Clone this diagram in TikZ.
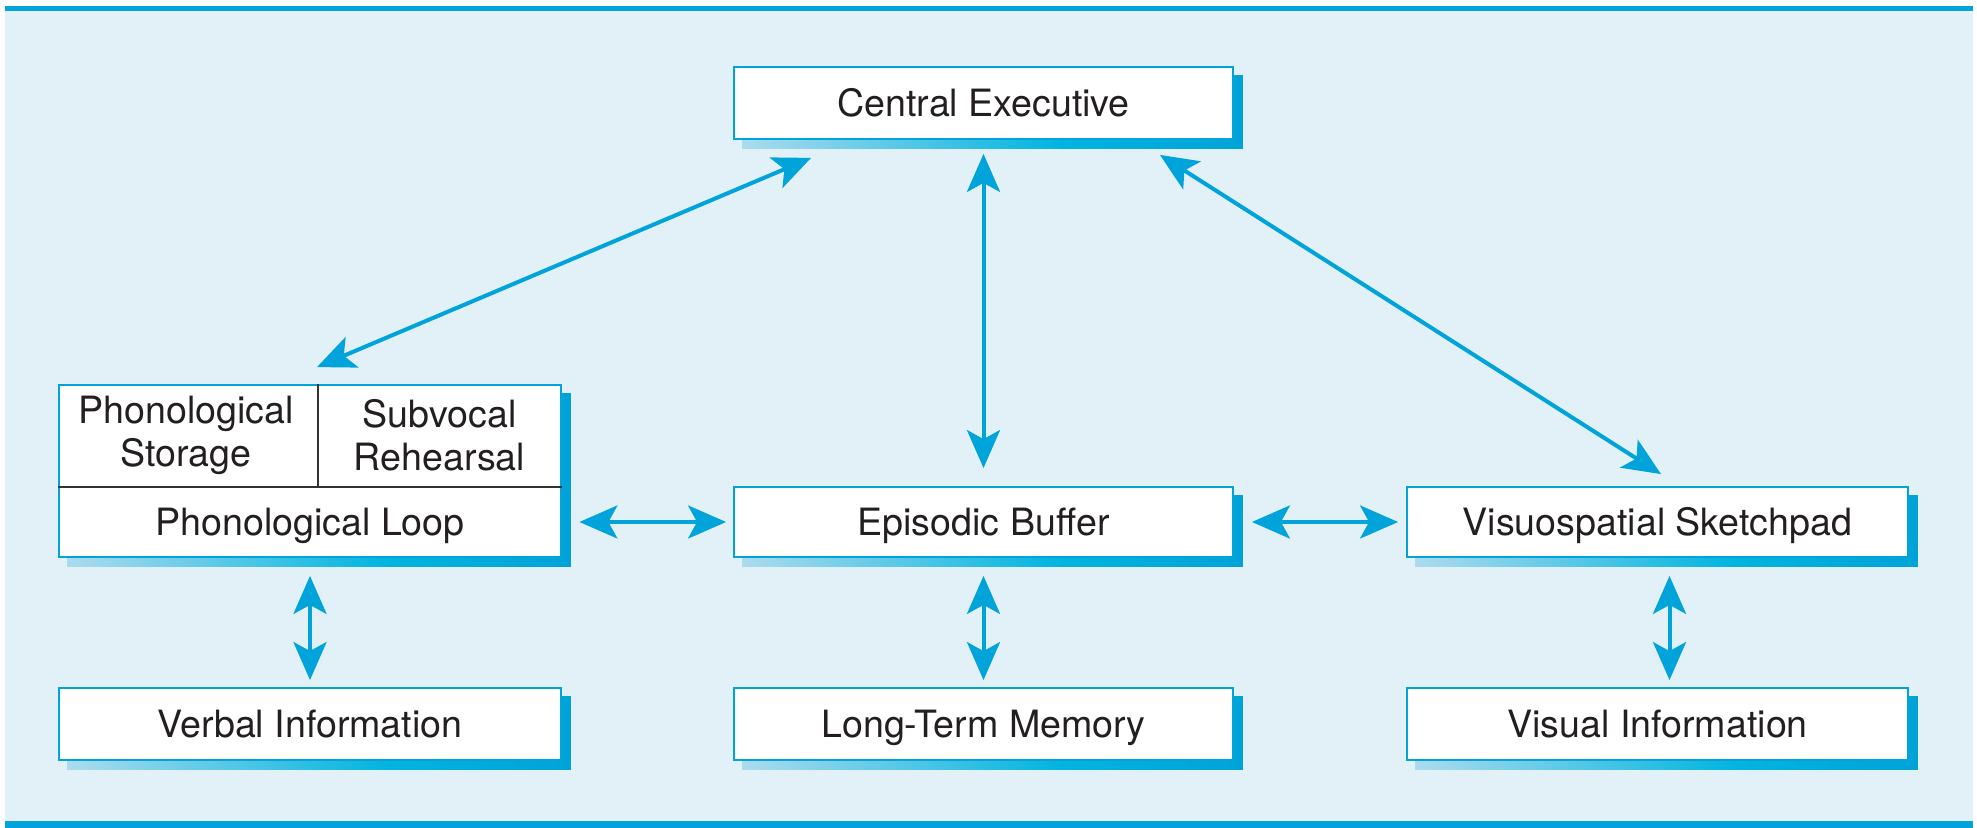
\documentclass[tikz,border=0pt]{standalone}
\usepackage{fontspec}
\setmainfont{TeX Gyre Heros}
\usetikzlibrary{arrows.meta}
\definecolor{bgblue}{RGB}{226,241,248}
\definecolor{cyanline}{RGB}{0,163,218}
\definecolor{shl}{RGB}{172,219,237}
\definecolor{shm}{RGB}{0,180,224}
\definecolor{shr}{RGB}{0,163,216}
\definecolor{textc}{RGB}{35,31,32}
\definecolor{divc}{RGB}{50,50,50}
\pgfdeclarelayer{bg}
\pgfsetlayers{bg,main}
\pgfdeclarehorizontalshading{shadowgrad}{100bp}{color(0bp)=(shl); color(25bp)=(shl); color(57bp)=(shm); color(75bp)=(shr); color(100bp)=(shr)}
\begin{document}
\begin{tikzpicture}[x=0.5pt,y=-0.5pt,
  box/.style={draw=cyanline, line width=0.9pt, fill=white, rectangle, inner sep=0pt,
    text=textc, font=\fontsize{18.8}{21.5}\selectfont, align=center,
    text height=15.6pt, text depth=2pt},
  lbl/.style={inner sep=0pt, text=textc, font=\fontsize{18.8}{21.5}\selectfont, align=center},
  divider/.style={draw=divc, line width=0.75pt},
  link/.style={draw=cyanline, line width=2pt,
    {Stealth[length=19pt,width=16.5pt,inset=4.5pt]}-{Stealth[length=19pt,width=16.5pt,inset=4.5pt]}},
]
\useasboundingbox (0,0) rectangle (1977,828);

% boxes
\node[box, minimum width=249.5pt, minimum height=36pt] (ce) at (983.5,103) {Central Executive};
\node[box, minimum width=251pt, minimum height=86pt] (pl) at (310,471) {};
\node[box, minimum width=249.5pt, minimum height=35pt] (eb) at (983.5,522) {Episodic Buffer};
\node[box, minimum width=250.5pt, minimum height=35pt] (vs) at (1657.5,522) {Visuospatial Sketchpad};
\node[box, minimum width=251pt, minimum height=36pt] (vb) at (310,724) {Verbal Information};
\node[box, minimum width=249.5pt, minimum height=36pt] (ltm) at (983.5,724) {Long-Term Memory};
\node[box, minimum width=250.5pt, minimum height=36pt] (vi) at (1657.5,724) {Visual Information};

% phonological loop inner cells
\coordinate (plmid) at (310,487);
\coordinate (pldiv) at (318,487);
\draw[divider] (plmid -| pl.west) -- (plmid -| pl.east);
\draw[divider] (pldiv |- pl.north) -- (pldiv);
\node[lbl] (ps) at (186,435) {Phonological\\Storage};
\node[lbl] (sr) at (439.5,435) {Subvocal\\Rehearsal};
\node[lbl, minimum width=251pt, minimum height=35pt, text height=15.6pt, text depth=2pt] (pll) at (310,522) {Phonological Loop};

% background and shadows
\begin{pgfonlayer}{bg}
\fill[bgblue] (5,6) rectangle (1973,828);
\fill[cyanline] (5,6) rectangle (1973,11);
\fill[cyanline] (5,821) rectangle (1973,828);
\foreach \n in {ce,pl,eb,vs,vb,ltm,vi}
  \shade[shading=shadowgrad] ([shift={(4.5pt,-4.5pt)}]\n.north west) rectangle ([shift={(4.5pt,-4.5pt)}]\n.south east);
\end{pgfonlayer}

% connectors
\draw[link] ([xshift=39pt,yshift=-9pt]ce.south west) -- ([xshift=3.5pt,yshift=8.5pt]pl.north);
\draw[link] ([yshift=-7pt]ce.south) -- ([yshift=9pt]eb.north);
\draw[link] ([xshift=-37pt,yshift=-7.5pt]ce.south east) -- ([xshift=1.75pt,yshift=6pt]vs.north);
\draw[link] ([xshift=9pt]pll.east) -- ([xshift=-3.5pt]eb.west);
\draw[link] ([xshift=9pt]eb.east) -- ([xshift=-4pt]vs.west);
\draw[link] ([yshift=-9pt]pl.south) -- ([yshift=3.5pt]vb.north);
\draw[link] ([yshift=-9pt]eb.south) -- ([yshift=3.5pt]ltm.north);
\draw[link] ([xshift=6pt,yshift=-9pt]vs.south) -- ([xshift=6pt,yshift=3.5pt]vi.north);
\end{tikzpicture}
\end{document}
